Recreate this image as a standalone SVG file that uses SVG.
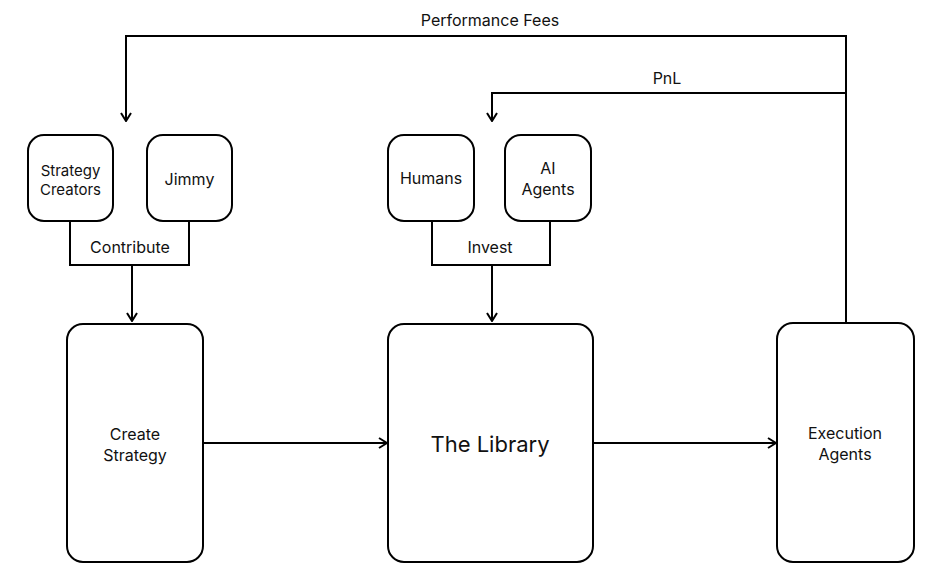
<svg xmlns="http://www.w3.org/2000/svg" width="944" height="583" viewBox="0 0 944 583">
<style>
.box{fill:#fff;stroke:#000;stroke-width:2}
.ln{fill:none;stroke:#000;stroke-width:2}
text{font-family:Inter,"Noto Sans","Liberation Sans",sans-serif;fill:#111;text-anchor:middle;dominant-baseline:central}
.s15{font-size:15px}.s16{font-size:16px}.s22{font-size:22px}
</style>
<defs>
<marker id="ah" viewBox="0 0 12 12" refX="11" refY="6" markerWidth="12" markerHeight="12" markerUnits="userSpaceOnUse" orient="auto">
<polyline points="3,1 11,6 3,11" fill="none" stroke="#000" stroke-width="2"/>
</marker>
</defs>
<rect width="944" height="583" fill="#fff"/>
<g id="connectors">
<path class="ln" d="M846,323 V36 H126 V121" marker-end="url(#ah)"/>
<path class="ln" d="M846,93 H492 V121" marker-end="url(#ah)"/>
<path class="ln" d="M70,221 V265 H189 V221"/>
<path class="ln" d="M132,265 V321" marker-end="url(#ah)"/>
<path class="ln" d="M432,221 V265 H550 V221"/>
<path class="ln" d="M492,265 V321" marker-end="url(#ah)"/>
<path class="ln" d="M203,443 H387" marker-end="url(#ah)"/>
<path class="ln" d="M593,443 H776" marker-end="url(#ah)"/>
<text class="s16" x="490" y="20">Performance Fees</text>
<text class="s16" x="667" y="78">PnL</text>
<text class="s16" x="130" y="247">Contribute</text>
<text class="s16" x="490" y="247">Invest</text>
</g>
<g id="strategy-creators"><rect class="box" x="28" y="135" width="85" height="86" rx="16"/><text class="s15" x="70.5" y="170">Strategy</text><text class="s15" x="70.5" y="189">Creators</text></g>
<g id="jimmy"><rect class="box" x="147" y="135" width="85" height="86" rx="16"/><text class="s16" x="189.5" y="179">Jimmy</text></g>
<g id="humans"><rect class="box" x="388" y="135" width="86" height="86" rx="16"/><text class="s16" x="431" y="178">Humans</text></g>
<g id="ai-agents"><rect class="box" x="505" y="135" width="86" height="86" rx="16"/><text class="s16" x="548" y="168">AI</text><text class="s16" x="548" y="189">Agents</text></g>
<g id="create-strategy"><rect class="box" x="67" y="324" width="136" height="238" rx="16"/><text class="s16" x="135" y="434">Create</text><text class="s16" x="135" y="455">Strategy</text></g>
<g id="the-library"><rect class="box" x="388" y="324" width="205" height="238" rx="16"/><text class="s22" x="490" y="444">The Library</text></g>
<g id="execution-agents"><rect class="box" x="777" y="323" width="137" height="239" rx="16"/><text class="s16" x="845" y="433">Execution</text><text class="s16" x="845" y="454">Agents</text></g>
</svg>
